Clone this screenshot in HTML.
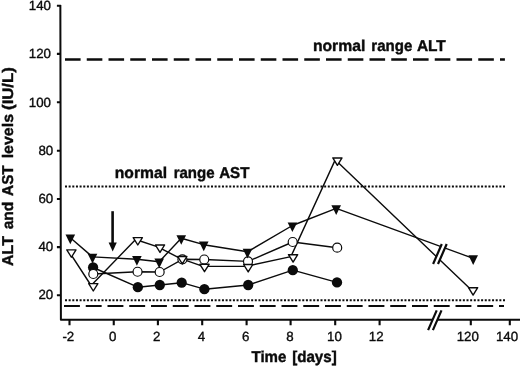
<!DOCTYPE html>
<html><head><meta charset="utf-8">
<style>
html,body{margin:0;padding:0;background:#fff;}
body{width:520px;height:367px;overflow:hidden;}
svg{display:block;}
text{font-family:"Liberation Sans",sans-serif;fill:#0b0b0b;text-rendering:geometricPrecision;}
.t{font-size:13.3px;stroke:#0b0b0b;stroke-width:0.35px;}
.b{font-weight:bold;font-size:15px;}
</style></head><body>
<svg width="520" height="367" viewBox="0 0 520 367">
<g style="filter:grayscale(1) blur(0.35px)">
<rect x="-10" y="-10" width="540" height="387" fill="#fff"/>
<path d="M60.35 4.9 L60.9 319.65 H530" stroke="#0b0b0b" stroke-width="2" fill="none" stroke-linejoin="round"/>
<path d="M56.9 5.8H60.9 M56.9 53.9H60.9 M56.9 102.2H60.9 M56.9 150.7H60.9 M56.9 199.0H60.9 M56.9 247.1H60.9 M56.9 295.3H60.9 M69.5 319.65V325.3 M113.75 319.65V325.3 M157.9 319.65V325.3 M202.2 319.65V325.3 M246.6 319.65V325.3 M290.6 319.65V325.3 M335.2 319.65V325.3 M379.6 319.65V325.3 M470.8 319.65V325.3 M509.8 319.65V325.3" stroke="#0b0b0b" stroke-width="2.1" fill="none"/>
<g class="t" text-anchor="end">
<text x="51.0" y="10.2">140</text>
<text x="51.0" y="58.3">120</text>
<text x="51.0" y="106.5">100</text>
<text x="53.2" y="154.7">80</text>
<text x="53.2" y="203.2">60</text>
<text x="53.2" y="251.4">40</text>
<text x="53.2" y="299.35">20</text>
</g><g class="t" text-anchor="middle">
<text x="68.3" y="341.3">-2</text>
<text x="112.6" y="341.3">0</text>
<text x="156.6" y="341.3">2</text>
<text x="201.5" y="341.3">4</text>
<text x="245.6" y="341.3">6</text>
<text x="290" y="341.3">8</text>
<text x="334.4" y="341.3">10</text>
<text x="376.2" y="341.3">12</text>
<text x="467.75" y="341.3">120</text>
<text x="507" y="341.3">140</text>
</g>
<text x="312.90" y="50.9" textLength="52.36" lengthAdjust="spacingAndGlyphs" style="font-weight:bold;font-size:15.7px" stroke="#0b0b0b" stroke-width="0.4">normal</text>
<text x="371.34" y="50.9" textLength="40.97" lengthAdjust="spacingAndGlyphs" style="font-weight:bold;font-size:15.7px" stroke="#0b0b0b" stroke-width="0.4">range</text>
<text x="416.91" y="50.9" textLength="28.88" lengthAdjust="spacingAndGlyphs" style="font-weight:bold;font-size:15.7px" stroke="#0b0b0b" stroke-width="0.4">ALT</text>
<text x="114.80" y="178.1" textLength="52.26" lengthAdjust="spacingAndGlyphs" style="font-weight:bold;font-size:15.7px" stroke="#0b0b0b" stroke-width="0.4">normal</text>
<text x="173.64" y="178.1" textLength="40.97" lengthAdjust="spacingAndGlyphs" style="font-weight:bold;font-size:15.7px" stroke="#0b0b0b" stroke-width="0.4">range</text>
<text x="219.22" y="178.1" textLength="30.20" lengthAdjust="spacingAndGlyphs" style="font-weight:bold;font-size:15.7px" stroke="#0b0b0b" stroke-width="0.4">AST</text>
<text x="251.46" y="361.9" textLength="34.91" lengthAdjust="spacingAndGlyphs" style="font-weight:bold;font-size:15.7px" stroke="#0b0b0b" stroke-width="0.4">Time</text>
<text x="292.14" y="361.9" textLength="44.60" lengthAdjust="spacingAndGlyphs" style="font-weight:bold;font-size:15.7px" stroke="#0b0b0b" stroke-width="0.4">[days]</text>
<text transform="translate(12.9,265.91) rotate(-90)" textLength="29.80" lengthAdjust="spacingAndGlyphs" style="font-weight:bold;font-size:15.7px" stroke="#0b0b0b" stroke-width="0.4">ALT</text>
<text transform="translate(12.9,229.31) rotate(-90)" textLength="27.68" lengthAdjust="spacingAndGlyphs" style="font-weight:bold;font-size:15.3px" stroke="#0b0b0b" stroke-width="0.4">and</text>
<text transform="translate(12.9,195.89) rotate(-90)" textLength="30.61" lengthAdjust="spacingAndGlyphs" style="font-weight:bold;font-size:15.7px" stroke="#0b0b0b" stroke-width="0.4">AST</text>
<text transform="translate(12.9,158.34) rotate(-90)" textLength="44.36" lengthAdjust="spacingAndGlyphs" style="font-weight:bold;font-size:15.3px" stroke="#0b0b0b" stroke-width="0.4">levels</text>
<text transform="translate(12.9,109.92) rotate(-90)" textLength="42.74" lengthAdjust="spacingAndGlyphs" style="font-weight:bold;font-size:15.3px" stroke="#0b0b0b" stroke-width="0.4">(IU/L)</text>
<g stroke="#0b0b0b" stroke-width="2" fill="none">
<path d="M65.0 59.5H504.9" stroke-dasharray="15.6 6.15" stroke-width="2.3"/>
<path d="M64.0 305.9H504.0" stroke-dasharray="15.9 5.85"/>
<path d="M65 186.4H505" stroke-dasharray="2 1.65"/>
<path d="M65 300.3H505" stroke-dasharray="2 1.65"/>
</g>
<g stroke="#0b0b0b" stroke-width="1.4" fill="none" stroke-linejoin="round">
<path d="M70.30 237.70 L92.50 256.90 L136.90 259.20 L159.20 261.70 L181.25 238.25 L203.75 244.70 L247.50 251.80 L292.40 225.50 L336.20 208.40 L473.20 258.30"/>
<path d="M69.20 251.75 L91.10 285.50 L135.60 239.50 L157.80 246.90 L180.10 258.40 L202.30 266.20 L246.00 266.40 L290.90 256.60 L335.20 159.85 L470.90 289.60"/>
<path d="M93.30 274.00 L137.55 271.75 L159.65 272.00 L182.40 259.30 L204.25 259.50 L248.00 261.40 L292.70 242.00 L337.20 247.70"/>
<path d="M93.10 267.50 L137.85 287.20 L159.80 285.00 L181.70 282.70 L204.40 289.20 L248.20 285.00 L292.80 270.20 L337.00 282.40"/>
</g>
<g fill="#0b0b0b" stroke="none">
<circle cx="93.1" cy="267.5" r="5.15"/>
<circle cx="137.85" cy="287.2" r="5.15"/>
<circle cx="159.8" cy="285" r="5.15"/>
<circle cx="181.7" cy="282.7" r="5.15"/>
<circle cx="204.4" cy="289.2" r="5.15"/>
<circle cx="248.2" cy="285.0" r="5.15"/>
<circle cx="292.8" cy="270.2" r="5.15"/>
<circle cx="337" cy="282.4" r="5.15"/>
</g>
<g fill="#fff" stroke="#0b0b0b" stroke-width="1.2">
<circle cx="93.3" cy="274" r="4.5"/>
<circle cx="137.55" cy="271.75" r="4.5"/>
<circle cx="159.65" cy="272" r="4.5"/>
<circle cx="182.4" cy="259.3" r="4.5"/>
<circle cx="204.25" cy="259.5" r="4.5"/>
<circle cx="248" cy="261.4" r="4.5"/>
<circle cx="292.7" cy="242" r="4.5"/>
<circle cx="337.2" cy="247.7" r="4.5"/>
</g>
<g fill="#0b0b0b" stroke="none">
<path d="M65.50 234.60H75.10L70.30 244.30Z"/>
<path d="M87.70 253.80H97.30L92.50 263.50Z"/>
<path d="M132.10 256.10H141.70L136.90 265.80Z"/>
<path d="M154.40 258.60H164.00L159.20 268.30Z"/>
<path d="M176.45 235.15H186.05L181.25 244.85Z"/>
<path d="M198.95 241.60H208.55L203.75 251.30Z"/>
<path d="M242.70 248.70H252.30L247.50 258.40Z"/>
<path d="M287.60 222.40H297.20L292.40 232.10Z"/>
<path d="M331.40 205.30H341.00L336.20 215.00Z"/>
<path d="M468.40 255.20H478.00L473.20 264.90Z"/>
</g>
<g fill="#fff" stroke="#0b0b0b" stroke-width="1.4" stroke-linejoin="round">
<path d="M66.80 249.85H76.00L71.40 257.25Z"/>
<path d="M88.70 283.60H97.90L93.30 291.00Z"/>
<path d="M133.20 237.60H142.40L137.80 245.00Z"/>
<path d="M155.40 245.00H164.60L160.00 252.40Z"/>
<path d="M177.70 256.50H186.90L182.30 263.90Z"/>
<path d="M199.90 264.30H209.10L204.50 271.70Z"/>
<path d="M243.60 264.50H252.80L248.20 271.90Z"/>
<path d="M288.50 254.70H297.70L293.10 262.10Z"/>
<path d="M332.80 157.95H342.00L337.40 165.35Z"/>
<path d="M468.50 287.70H477.70L473.10 295.10Z"/>
</g>
<path d="M112.6 211.2 V244" stroke="#0b0b0b" stroke-width="2.6" fill="none"/>
<path d="M108.6 242.6 H116.8 L112.7 251.4 Z" fill="#0b0b0b"/>
<path d="M433.1 264.0 L441.8 244 L446.7 244 L438.0 264.0Z" fill="#fff"/>
<path d="M433.1 264.0 L441.8 244 M438.0 264.0 L446.7 244" stroke="#0b0b0b" stroke-width="2.2" fill="none"/>
<path d="M428.1 330.1 L436.7 310.4 L441.5 310.4 L432.90000000000003 330.1Z" fill="#fff"/>
<path d="M428.1 330.1 L436.7 310.4 M432.90000000000003 330.1 L441.5 310.4" stroke="#0b0b0b" stroke-width="2.2" fill="none"/>
</g>
</svg>
</body></html>
